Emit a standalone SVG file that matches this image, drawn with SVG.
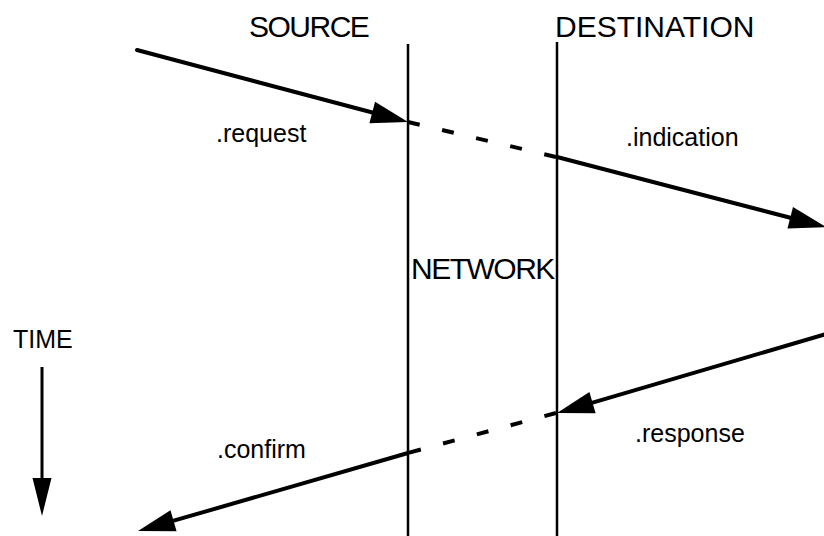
<svg xmlns="http://www.w3.org/2000/svg" width="824" height="536" viewBox="0 0 824 536">
  <style>
    .title { font-family: "Liberation Sans", Arial, sans-serif; font-size: 30px; fill: #000; }
    .label { font-family: "Liberation Sans", Arial, sans-serif; font-size: 25px; fill: #000; }
    .lane { stroke: #000; stroke-width: 2.5; fill: none; }
    .msg { stroke: #000; stroke-width: 4; fill: none; stroke-linecap: round; }
    .transit { stroke: #000; stroke-width: 4; fill: none; stroke-dasharray: 12 23; }
    .time { stroke: #000; stroke-width: 3; fill: none; }
  </style>
  <defs>
    <marker id="head" markerUnits="userSpaceOnUse" markerWidth="60" markerHeight="40" refX="0" refY="0" orient="auto" overflow="visible">
      <path d="M30,0 L-7,-11 L-7,11 Z" fill="#000"/>
    </marker>
    <marker id="head-small" markerUnits="userSpaceOnUse" markerWidth="50" markerHeight="30" refX="0" refY="0" orient="auto" overflow="visible">
      <path d="M28,0 L-10,-9.5 L-10,9.5 Z" fill="#000"/>
    </marker>
  </defs>

  <!-- lifelines -->
  <g id="source">
    <text class="title" x="249" y="37" letter-spacing="-1.5">SOURCE</text>
    <line class="lane" x1="408" y1="44" x2="408" y2="536"/>
  </g>
  <g id="destination">
    <text class="title" x="555" y="37">DESTINATION</text>
    <line class="lane" x1="557" y1="42" x2="557" y2="536"/>
  </g>
  <g id="network">
    <text class="title" x="411" y="279" letter-spacing="-1.5">NETWORK</text>
  </g>
  <g id="time">
    <text class="label" x="13" y="348">TIME</text>
    <line class="time" x1="42" y1="367" x2="42" y2="488" marker-end="url(#head-small)"/>
  </g>

  <!-- primitive labels -->
  <g id="labels">
    <text class="label" x="216" y="142">.request</text>
    <text class="label" x="626" y="146">.indication</text>
    <text class="label" x="635" y="442">.response</text>
    <text class="label" x="217" y="458">.confirm</text>
  </g>

  <!-- messages -->
  <g id="connectors">
    <line class="msg" x1="137" y1="50" x2="379" y2="114.3" marker-end="url(#head)"/>
    <line class="transit" x1="408" y1="122" x2="556" y2="157"/>
    <line class="msg" x1="557" y1="157" x2="797" y2="219.5" marker-end="url(#head)"/>
    <line class="msg" x1="826" y1="334" x2="585.8" y2="404.6" marker-end="url(#head)"/>
    <line class="transit" x1="556" y1="413" x2="408" y2="453"/>
    <line class="msg" x1="408" y1="453" x2="166.8" y2="522.7" marker-end="url(#head)"/>
  </g>
</svg>
